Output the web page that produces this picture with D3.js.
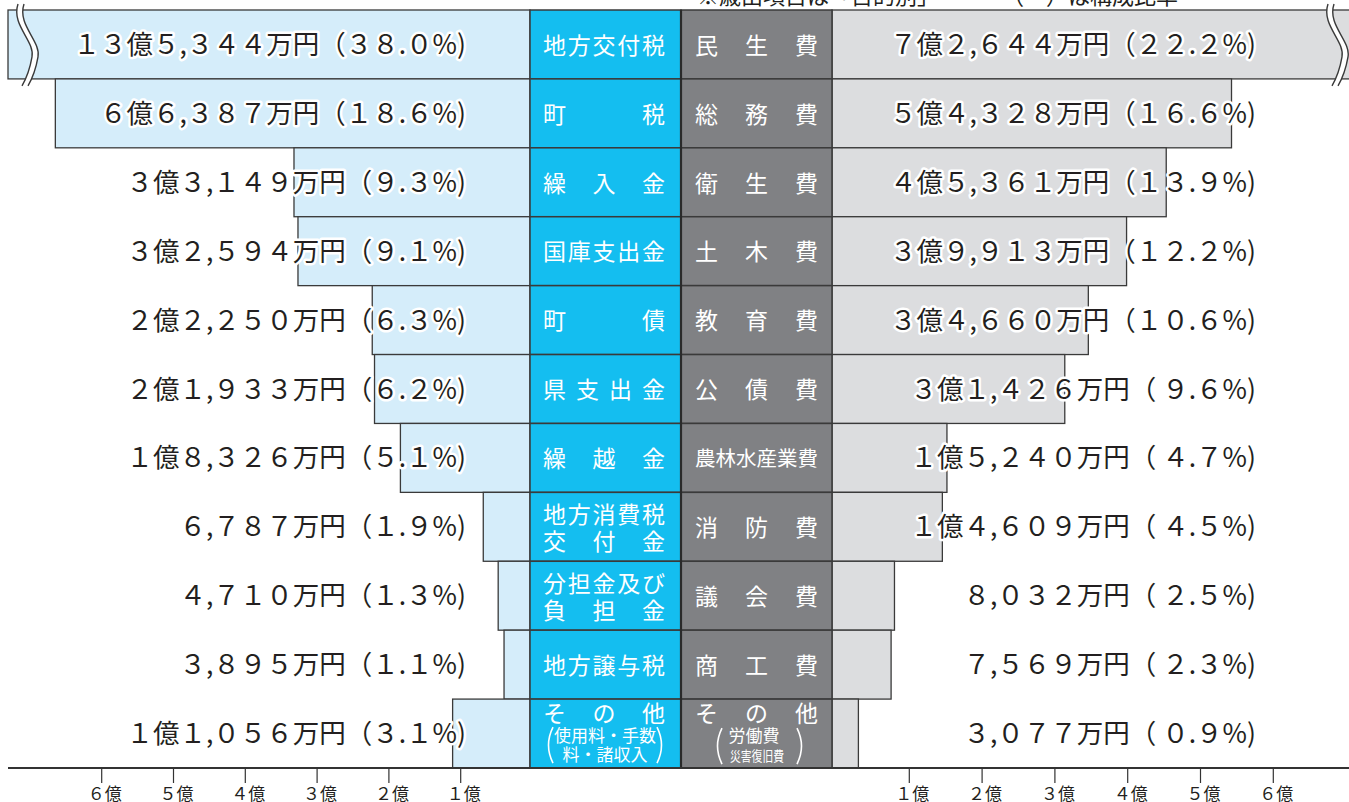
<!DOCTYPE html>
<html><head><meta charset="utf-8">
<script src="https://cdn.jsdelivr.net/npm/d3@7"></script>
<style>body{margin:0;background:#fff;overflow:hidden;} svg{display:block;}</style>
</head><body>
<script>
// ---- data ----
const revenueCats = [["地方交付税"],["町税"],["繰入金"],["国庫支出金"],["町債"],["県支出金"],["繰越金"],["地方消費税","交付金"],["分担金及び","負担金"],["地方譲与税"],["その他"]];
const revenueValues = [135344,66387,33149,32594,22250,21933,18326,6787,4710,3895,11056]; // 万円
const revenuePct = ["38.0","18.6","9.3","9.1","6.3","6.2","5.1","1.9","1.3","1.1","3.1"];
const expenseCats = [["民生費"],["総務費"],["衛生費"],["土木費"],["教育費"],["公債費"],["農林水産業費"],["消防費"],["議会費"],["商工費"],["その他"]];
const expenseValues = [72644,54328,45361,39913,34660,31426,15240,14609,8032,7569,3077]; // 万円
const expensePct = ["22.2","16.6","13.9","12.2","10.6","9.6","4.7","4.5","2.5","2.3","0.9"];
const tickValues = [10000,20000,30000,40000,50000,60000];
const tickLabels = ["1億","2億","3億","4億","5億","6億"];
const revenueOtherNote = ["使用料・手数","料・諸収入"];
const expenseOtherNote = ["労働費","災害復旧費"];
const noteText = ["※歳出項目は「目的別」","（　）は構成比率"];

// ---- layout ----
const W = 1349, H = 802;
const FONT = "'Noto Sans CJK JP','Noto Sans CJK SC',sans-serif";
const C = {blue:"#14bef0", gray:"#808184", lblue:"#d5edfa", lgray:"#dcdddf", line:"#3a3a3a", text:"#231f20"};
const blueX0 = 530, blueX1 = 681, grayX0 = 681, grayX1 = 832;
const leftEdge = 8, rightEdge = 1360;

const svg = d3.select("body").append("svg").attr("width", W).attr("height", H)
  .style("font-family", FONT);

const y = d3.scaleBand().domain(d3.range(revenueCats.length)).range([10, 768]).padding(0);
const xL = d3.scaleLinear().domain([0, 70000]).range([532, 532 - 7 * 71.8]);
const xR = d3.scaleLinear().domain([0, 70000]).range([836, 836 + 7 * 72.8]);

const fw = s => s.replace(/[0-9]/g, d => String.fromCharCode(d.charCodeAt(0) + 0xFEE0));
function fmtAmount(v){
  const oku = Math.floor(v / 10000), man = v % 10000;
  return fw((oku ? oku + "億" : "") + d3.format(",")(man) + "万円");
}
function label(v, p, pad){
  return fmtAmount(v) + "（" + (pad && parseFloat(p) < 10 ? " " : "") + fw(p) + "%)";
}

// top note (cut off at top)
svg.append("text").attr("x", 697).attr("y", 4).attr("font-size", 22).attr("fill", C.text).text(noteText[0]);
svg.append("text").attr("x", 1178).attr("y", 4).attr("font-size", 22).attr("fill", C.text).attr("text-anchor","end").text(noteText[1]);

// left bars
const gL = svg.append("g");
gL.selectAll("rect").data(revenueValues).join("rect")
  .attr("x", d => Math.max(xL(d), leftEdge))
  .attr("y", (d,i) => y(i))
  .attr("width", d => blueX0 - Math.max(xL(d), leftEdge))
  .attr("height", y.bandwidth())
  .attr("fill", C.lblue).attr("stroke", C.line).attr("stroke-width", 1.3);

// right bars
const gR = svg.append("g");
gR.selectAll("rect").data(expenseValues).join("rect")
  .attr("x", grayX1)
  .attr("y", (d,i) => y(i))
  .attr("width", d => Math.min(xR(d), rightEdge) - grayX1)
  .attr("height", y.bandwidth())
  .attr("fill", C.lgray).attr("stroke", C.line).attr("stroke-width", 1.3);

// break marks for clipped bars
function breakMark(x0, yt, yb){
  const h = yb - yt;
  const c = (dx) => `M${x0+dx},${yt-6} C${x0+dx-7},${yt+0.22*h} ${x0+dx+17},${yt+0.45*h} ${x0+dx+14},${yt+0.68*h} C${x0+dx+12},${yt+0.85*h} ${x0+dx+8},${yb} ${x0+dx+4},${yb+7}`;
  const cr = (dx) => `L${x0+dx+4},${yb+7} C${x0+dx+8},${yb} ${x0+dx+12},${yt+0.85*h} ${x0+dx+14},${yt+0.68*h} C${x0+dx+17},${yt+0.45*h} ${x0+dx-7},${yt+0.22*h} ${x0+dx},${yt-6} Z`;
  const g = svg.append("g");
  g.append("path").attr("d", c(0) + cr(6)).attr("fill", "#fff").attr("stroke", "none");
  g.append("path").attr("d", c(0)).attr("fill", "none").attr("stroke", C.line).attr("stroke-width", 1.4);
  g.append("path").attr("d", c(6)).attr("fill", "none").attr("stroke", C.line).attr("stroke-width", 1.4);
}
revenueValues.forEach((v,i) => { if (xL(v) < leftEdge) breakMark(18, y(i), y(i) + y.bandwidth()); });
expenseValues.forEach((v,i) => { if (xR(v) > W) breakMark(1328, y(i), y(i) + y.bandwidth()); });

// center columns
const gc = svg.append("g");
gc.selectAll("rect.b").data(revenueCats).join("rect").attr("class","b")
  .attr("x", blueX0).attr("y", (d,i) => y(i)).attr("width", blueX1 - blueX0).attr("height", y.bandwidth())
  .attr("fill", C.blue).attr("stroke", C.line).attr("stroke-width", 1.5);
gc.selectAll("rect.g").data(expenseCats).join("rect").attr("class","g")
  .attr("x", grayX0).attr("y", (d,i) => y(i)).attr("width", grayX1 - grayX0).attr("height", y.bandwidth())
  .attr("fill", C.gray).attr("stroke", C.line).attr("stroke-width", 1.5);
gc.append("line").attr("x1", blueX1).attr("x2", blueX1).attr("y1", y(0)).attr("y2", 768)
  .attr("stroke", "#2a2a2a").attr("stroke-width", 2.2);

function justify(g, text, x0, x1, cy, fs){
  const chars = Array.from(text), n = chars.length;
  const fsz = Math.min(fs, (x1 - x0) / n);
  chars.forEach((ch, k) => {
    const cx = n === 1 ? (x0 + x1) / 2 : x0 + fsz/2 + k * (x1 - x0 - fsz) / (n - 1);
    g.append("text").attr("x", cx).attr("y", cy + 0.36 * fsz).attr("text-anchor", "middle")
      .attr("font-size", fsz).attr("fill", "#fff").text(ch);
  });
}
function paren(g, x, yt, yb, left){
  const d = left ? `M${x},${yt} Q${x-9},${(yt+yb)/2} ${x},${yb}` : `M${x},${yt} Q${x+9},${(yt+yb)/2} ${x},${yb}`;
  g.append("path").attr("d", d).attr("fill", "none").attr("stroke", "#fff").attr("stroke-width", 1.6);
}
const last = revenueCats.length - 1;
revenueCats.forEach((lines, i) => {
  const cy = y(i) + y.bandwidth()/2 + 1;
  if (i === last){
    justify(gc, lines[0], 543, 665, y(i) + 15, 23);
    gc.append("text").attr("x", 605).attr("y", y(i) + 43).attr("text-anchor","middle").attr("font-size", 17).attr("fill","#fff").text(revenueOtherNote[0]);
    gc.append("text").attr("x", 605).attr("y", y(i) + 62).attr("text-anchor","middle").attr("font-size", 17).attr("fill","#fff").text(revenueOtherNote[1]);
    paren(gc, 553, y(i) + 28, y(i) + 64, true);
    paren(gc, 657, y(i) + 28, y(i) + 64, false);
  } else if (lines.length === 2){
    justify(gc, lines[0], 543, 665, cy - 13, 23);
    justify(gc, lines[1], 543, 665, cy + 14, 23);
  } else {
    justify(gc, lines[0], 543, 665, cy, 23);
  }
});
expenseCats.forEach((lines, i) => {
  const cy = y(i) + y.bandwidth()/2 + 1;
  if (i === last){
    justify(gc, lines[0], 695, 818, y(i) + 15, 23);
    gc.append("text").attr("x", 754).attr("y", y(i) + 43).attr("text-anchor","middle").attr("font-size", 17).attr("fill","#fff").text(expenseOtherNote[0]);
    gc.append("text").attr("x", 757).attr("y", y(i) + 62).attr("text-anchor","middle").attr("font-size", 14)
      .attr("textLength", 54).attr("lengthAdjust", "spacingAndGlyphs").attr("fill","#fff").text(expenseOtherNote[1]);
    paren(gc, 722, y(i) + 29, y(i) + 65, true);
    paren(gc, 797, y(i) + 29, y(i) + 65, false);
  } else {
    justify(gc, lines[0], 695, 818, cy, 23);
  }
});

// value labels
const FS = 26.5;
const lab = svg.append("g").attr("font-size", FS).attr("fill", C.text)
  .attr("stroke", "#fff").attr("stroke-width", 5).attr("stroke-linejoin", "round").attr("paint-order", "stroke");
revenueValues.forEach((v, i) => {
  lab.append("text").attr("x", 466).attr("y", y(i) + y.bandwidth()/2 + 0.36*FS)
    .attr("text-anchor", "end").text(label(v, revenuePct[i], false));
});
expenseValues.forEach((v, i) => {
  lab.append("text").attr("x", 1256).attr("y", y(i) + y.bandwidth()/2 + 0.36*FS)
    .attr("text-anchor", "end").text(label(v, expensePct[i], true));
});

// axes
svg.append("line").attr("x1", leftEdge).attr("x2", W).attr("y1", 768).attr("y2", 768)
  .attr("stroke", "#333").attr("stroke-width", 2);
function styleAxis(g){
  g.select(".domain").remove();
  g.selectAll(".tick line").attr("stroke", "#333").attr("stroke-width", 1.2);
  g.selectAll(".tick text").attr("font-family", FONT).attr("font-size", 17).attr("fill", C.text)
    .attr("dx", 3).attr("dy", 0).attr("y", 32);
}
svg.append("g").attr("transform", "translate(0,768)")
  .call(d3.axisBottom(xL).tickValues(tickValues).tickSize(15).tickFormat((d,i) => fw(tickLabels[i])))
  .call(styleAxis);
svg.append("g").attr("transform", "translate(0,768)")
  .call(d3.axisBottom(xR).tickValues(tickValues).tickSize(15).tickFormat((d,i) => fw(tickLabels[i])))
  .call(styleAxis);
</script>
</body></html>
